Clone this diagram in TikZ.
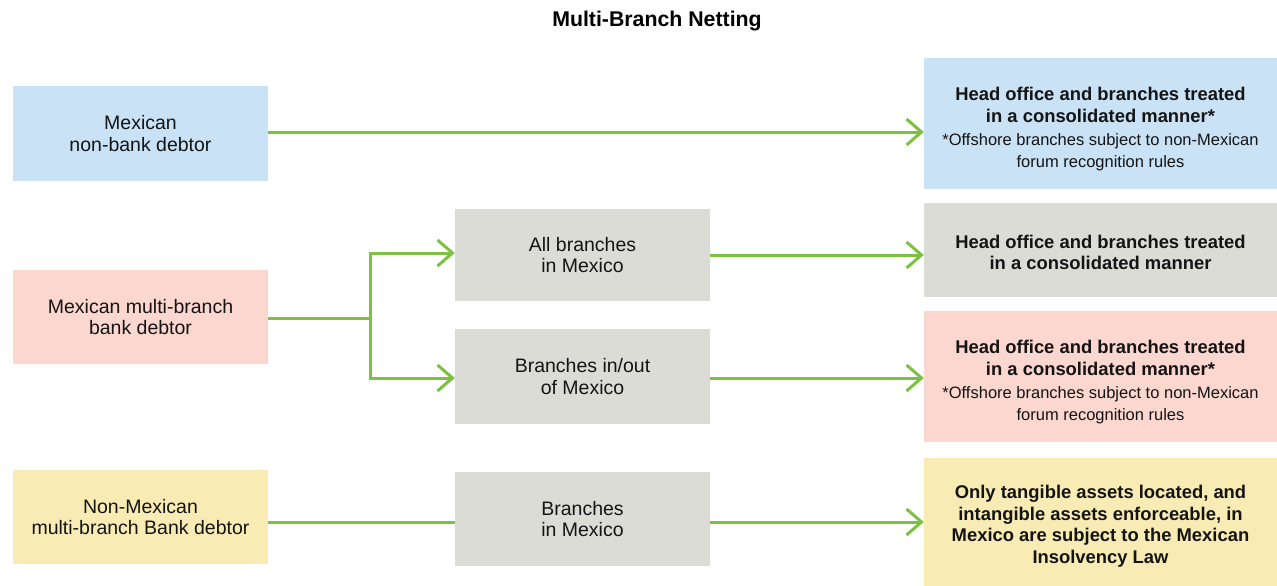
\documentclass[tikz,border=0pt]{standalone}
\usepackage{fontspec}
\setmainfont{Liberation Sans}
\usetikzlibrary{arrows.meta,positioning,calc}
\definecolor{cblue}{HTML}{C9E2F5}
\definecolor{cpink}{HTML}{FBD7CF}
\definecolor{cgray}{HTML}{DCDCD6}
\definecolor{cyellow}{HTML}{F8EBB3}
\definecolor{cgreen}{HTML}{7DC142}
\newcommand{\notefont}{\fontsize{16.5}{20}\selectfont}
\newcommand{\boldfont}{\bfseries\fontsize{18.4}{21.5}\selectfont}
\begin{document}
\begin{tikzpicture}[x=1pt,y=-1pt,
  box/.style={rectangle,inner sep=0pt,align=center,font=\fontsize{19.5}{21.8}\selectfont,text=black!92},
  lbox/.style={box,minimum width=255pt,minimum height=94pt},
  rbox/.style={box,minimum width=353pt,font=\boldfont},
  conn/.style={draw=cgreen,line width=3pt},
  arr/.style={conn,-{Straight Barb[length=15pt,width=26pt,line width=3pt]}}
]
\useasboundingbox (0,0) rectangle (1277,586);
\node[font=\bfseries\fontsize{21.3}{24}\selectfont] (title) at (657,21) {Multi-Branch Netting};

\node[lbox,fill=cblue,minimum height=95pt] (A) at (140.5,133.5) {Mexican\\non-bank debtor};
\node[rbox,fill=cblue,minimum height=131pt] (Ar) at (1100.5,123.5) {\rule{0pt}{24pt}Head office and branches treated\\in a consolidated manner*\\[2pt]{\notefont\mdseries *Offshore branches subject to non-Mexican}\\{\notefont\mdseries forum recognition rules}};

\node[lbox,fill=cpink] (B) at (140.5,317) {Mexican multi-branch\\bank debtor};
\node[lbox,fill=cgray,minimum height=92pt] (G1) at (582.5,255) {All branches\\in Mexico};
\node[lbox,fill=cgray,minimum height=95pt] (G2) at (582.5,376.5) {Branches in/out\\of Mexico};
\node[rbox,fill=cgray,minimum height=94pt] (R2) at (1100.5,250) {\rule{0pt}{18.5pt}Head office and branches treated\\in a consolidated manner};
\node[rbox,fill=cpink,minimum height=131pt] (R3) at (1100.5,376.5) {\rule{0pt}{24pt}Head office and branches treated\\in a consolidated manner*\\[2pt]{\notefont\mdseries *Offshore branches subject to non-Mexican}\\{\notefont\mdseries forum recognition rules}};

\node[lbox,fill=cyellow] (C) at (140.5,517) {Non-Mexican\\multi-branch Bank debtor};
\node[lbox,fill=cgray] (G3) at (582.5,519) {Branches\\in Mexico};
\node[rbox,fill=cyellow,minimum height=128pt] (R4) at (1100.5,522) {\rule{0pt}{22pt}Only tangible assets located, and\\intangible assets enforceable, in\\Mexico are subject to the Mexican\\Insolvency Law};

\coordinate (fork) at (370,318);
\draw[arr] (A.east |- 0,132) -- (Ar.west |- 0,132);
\draw[conn] (B.east |- fork) -- (fork);
\draw[arr] (fork) |- (G1.west |- 0,253);
\draw[arr] (fork) |- (G2.west |- 0,378);
\draw[arr] (G1.east) -- (G1.east -| R2.west);
\draw[arr] (G2.east |- 0,378) -- (R3.west |- 0,378);
\draw[conn] (C.east |- 0,522) -- (G3.west |- 0,522);
\draw[arr] (G3.east |- 0,522) -- (R4.west |- 0,522);
\end{tikzpicture}
\end{document}
